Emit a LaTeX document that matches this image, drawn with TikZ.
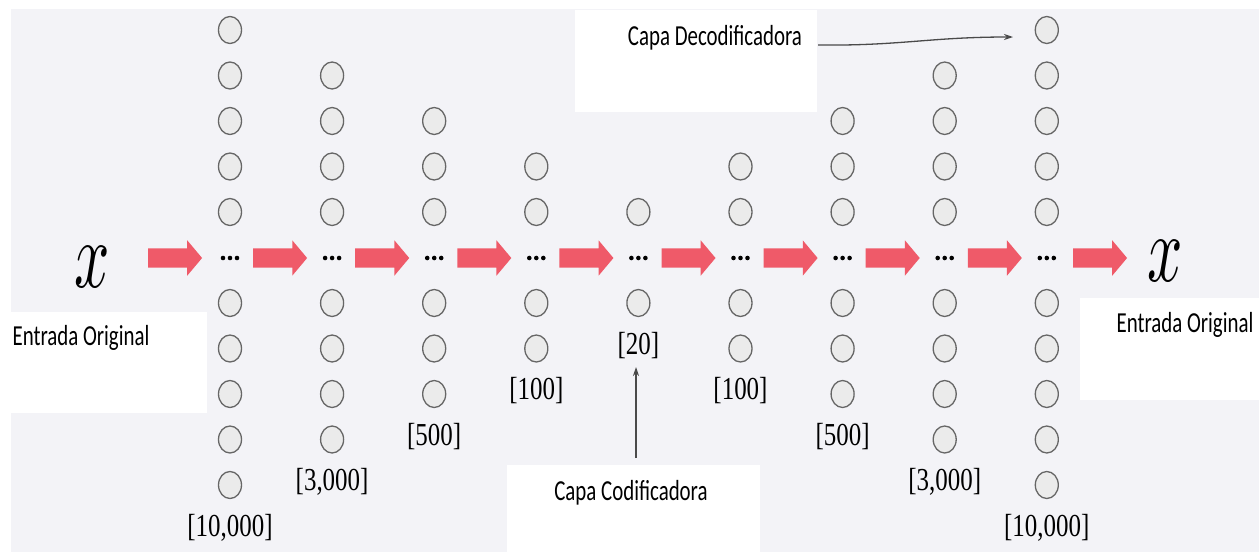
\documentclass[tikz,border=0pt]{standalone}
\usepackage{fontspec}
\usepackage{graphicx}
\newfontfamily\calfont[FakeStretch=0.72]{Carlito}
\newfontfamily\tmsfont[FakeStretch=0.78]{Liberation Serif}
\usetikzlibrary{shapes.arrows,shapes.geometric,arrows.meta}
\definecolor{bg}{HTML}{F3F3F7}
\definecolor{cfill}{HTML}{EBEBEB}
\definecolor{cdraw}{HTML}{666666}
\definecolor{ared}{HTML}{EF5A69}
\definecolor{conncol}{HTML}{4A4A4A}
\begin{document}
\begin{tikzpicture}[x=1pt,y=-1pt,
  neuron/.style={ellipse, draw=cdraw, fill=cfill, line width=1.3pt, minimum width=23pt, minimum height=27pt, inner sep=0pt},
  blockarrow/.style={single arrow, fill=ared, draw=none, minimum height=54pt, single arrow head extend=8pt, inner xsep=0pt, inner ysep=9.5pt, single arrow tip angle=100},
  lbl/.style={font=\tmsfont\fontsize{32}{34}\selectfont, inner sep=0pt},
  captext/.style={font=\calfont\fontsize{29}{32}\selectfont, inner sep=0pt},
  connarrow/.style={draw=conncol, line width=1.3pt, -{Stealth[length=9pt,width=6pt]}},
  patch/.style={fill=white, draw=none}]
\useasboundingbox (0,0) rectangle (1259,552);
\fill[white] (0,0) rectangle (1259,552);
\fill[bg] (11,9) rectangle (1259,552);
% white patches
\fill[patch] (11,312) rectangle (207,413);
\fill[patch] (575,10) rectangle (817,112);
\fill[patch] (507,465) rectangle (760,552);
\fill[patch] (1080,298) rectangle (1259,400);
% columns
\foreach \i/\n/\t in {1/5/{[10,000]},2/4/{[3,000]},3/3/{[500]},4/2/{[100]},5/1/{[20]},6/2/{[100]},7/3/{[500]},8/4/{[3,000]},9/5/{[10,000]}} {
  \pgfmathsetmacro\cx{230+102.1*(\i-1)}
  \pgfmathtruncatemacro\ks{5-\n}
  \pgfmathtruncatemacro\kb{5+\n}
  \foreach \k in {\ks,...,4} {
    \node[neuron] (c\i-\k) at (\cx,{30+45.5*\k}) {};
  }
  \foreach \k in {6,...,\kb} {
    \node[neuron] (c\i-\k) at (\cx,{30+45.5*\k}) {};
  }
  \node[lbl] (l\i) at (\cx,{30+45.5*(6+\n)-3}) {\t};
  \coordinate (d\i) at (\cx,258);
  \fill[black] ([xshift=-7pt]d\i) circle (2.3pt);
  \fill[black] (d\i) circle (2.3pt);
  \fill[black] ([xshift=7pt]d\i) circle (2.3pt);
}
% red arrows
\node[blockarrow] (a1) at (171,258) {};
\foreach \i in {1,...,8} {
  \pgfmathsetmacro\ax{230+102.1*(\i-0.5)-5}
  \pgfmathtruncatemacro\j{\i+1}
  \node[blockarrow] (a\j) at (\ax,258) {};
}
\node[blockarrow] (a10) at (1096,258) {};
% x symbols
\node[inner sep=0pt] (xin) at (92,267) {\scalebox{6.2}[9.5]{$x$}};
\node[inner sep=0pt] (xout) at (1165,261) {\scalebox{6.2}[9.5]{$x$}};
% labels
\node[captext] (ein) at (81,338) {Entrada Original};
\node[captext] (eout) at (1185,325) {Entrada Original};
\node[captext] (deco) at (715,38) {Capa Decodificadora};
\node[captext] (codi) at (631,493) {Capa Codificadora};
% connectors
\coordinate (decoS) at (818,45);
\coordinate (decoE) at (1013,37);
\draw[connarrow] (decoS) .. controls (900,46) and (930,37) .. (decoE);
\coordinate (codS) at (636,458);
\coordinate (codE) at (636,367);
\draw[connarrow] (codS) -- (codE);
\end{tikzpicture}
\end{document}
